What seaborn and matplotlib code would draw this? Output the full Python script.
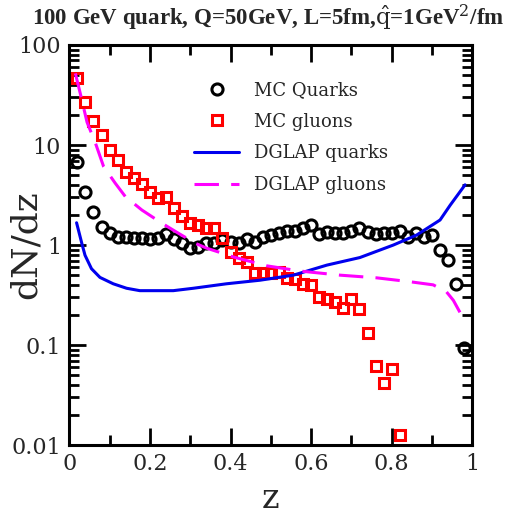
import numpy as np
import seaborn as sns
import matplotlib.pyplot as plt
from matplotlib.ticker import FixedLocator, FixedFormatter, LogLocator, NullFormatter, MultipleLocator

# MC quarks (black circles)
zq = [0.02, 0.04, 0.06, 0.08, 0.10, 0.12, 0.14, 0.16, 0.18, 0.20,
      0.22, 0.24, 0.26, 0.28, 0.30, 0.32, 0.34, 0.36, 0.38, 0.40,
      0.42, 0.44, 0.46, 0.48, 0.50, 0.52, 0.54, 0.56, 0.58, 0.60,
      0.62, 0.64, 0.66, 0.68, 0.70, 0.72, 0.74, 0.76, 0.78, 0.80,
      0.82, 0.84, 0.86, 0.88, 0.90, 0.92, 0.94, 0.96, 0.98]
mc_quarks = [6.76, 3.39, 2.14, 1.51, 1.31, 1.21, 1.21, 1.17, 1.17, 1.14,
             1.17, 1.28, 1.14, 1.04, 0.93, 0.96, 1.04, 1.06, 1.12, 1.08,
             1.04, 1.14, 1.08, 1.19, 1.26, 1.33, 1.39, 1.39, 1.47, 1.58,
             1.29, 1.36, 1.31, 1.31, 1.39, 1.47, 1.36, 1.28, 1.31, 1.33,
             1.39, 1.21, 1.31, 1.21, 1.26, 0.89, 0.71, 0.41, 0.093]

# MC gluons (red squares)
zg = [0.02, 0.04, 0.06, 0.08, 0.10, 0.12, 0.14, 0.16, 0.18, 0.20,
      0.22, 0.24, 0.26, 0.28, 0.30, 0.32, 0.34, 0.36, 0.38, 0.40,
      0.42, 0.44, 0.46, 0.48, 0.50, 0.52, 0.54, 0.56, 0.58, 0.60,
      0.62, 0.64, 0.66, 0.68, 0.70, 0.72, 0.74, 0.76, 0.78, 0.80, 0.82]
mc_gluons = [47, 27, 17.4, 12.6, 8.9, 7.1, 5.4, 4.65, 4.07, 3.41,
             2.93, 3.04, 2.36, 1.96, 1.65, 1.58, 1.49, 1.49, 1.17, 0.86,
             0.74, 0.67, 0.53, 0.53, 0.53, 0.54, 0.47, 0.46, 0.41, 0.40,
             0.30, 0.29, 0.27, 0.235, 0.29, 0.23, 0.133, 0.062, 0.042, 0.058, 0.0126]

# DGLAP quarks (blue line)
zdq = [0.018, 0.031, 0.039, 0.055, 0.076, 0.109, 0.142, 0.175, 0.258, 0.308,
       0.39, 0.473, 0.556, 0.639, 0.721, 0.804, 0.862, 0.92, 0.945, 0.978, 0.982]
dglap_quarks = [1.67, 1.04, 0.79, 0.58, 0.475, 0.41, 0.37, 0.35, 0.35, 0.37,
                0.41, 0.445, 0.50, 0.63, 0.75, 1.0, 1.26, 1.78, 2.5, 3.8, 4.0]

# DGLAP gluons (magenta dashed)
zdg = [0.015, 0.027, 0.044, 0.065, 0.085, 0.114, 0.139, 0.18, 0.23, 0.271,
       0.313, 0.341, 0.379, 0.407, 0.49, 0.572, 0.672, 0.763, 0.845, 0.903,
       0.936, 0.953, 0.97, 0.982]
dglap_gluons = [52, 33, 16.9, 10.4, 6.1, 4.15, 3.05, 2.24, 1.65, 1.31,
                1.04, 0.93, 0.83, 0.76, 0.62, 0.55, 0.50, 0.47, 0.43, 0.40,
                0.34, 0.28, 0.21, 0.18]

sns.set_style("ticks")
plt.rcParams['font.family'] = ['DejaVu Serif']
plt.rcParams['mathtext.fontset'] = 'dejavuserif'

fig = plt.figure(figsize=(5.15, 5.2), dpi=100)
ax = fig.add_axes([0.1346, 0.144, 0.7825, 0.7695])

sns.lineplot(x=zq, y=mc_quarks, ax=ax, marker='o', linestyle='', ms=8,
             mfc='none', mec='black', mew=2.2, label='MC Quarks')
sns.lineplot(x=zg, y=mc_gluons, ax=ax, marker='s', linestyle='', ms=7.5,
             mfc='none', mec='red', mew=2.2, label='MC gluons')
sns.lineplot(x=zdq, y=dglap_quarks, ax=ax, color='#0000ee', lw=2.2, sort=False,
             label='DGLAP quarks')
sns.lineplot(x=zdg, y=dglap_gluons, ax=ax, color='#ff00ff', lw=2.2, sort=False,
             dashes=False, linestyle=(0, (8, 4)), label='DGLAP gluons')

ax.set_yscale('log')
ax.set_xlim(0, 1)
ax.set_ylim(0.01, 100)

ax.set_xticks([0, 0.2, 0.4, 0.6, 0.8, 1])
ax.set_xticklabels(['0', '0.2', '0.4', '0.6', '0.8', '1'])
ax.xaxis.set_minor_locator(MultipleLocator(0.1))
ax.yaxis.set_major_locator(FixedLocator([0.01, 0.1, 1, 10, 100]))
ax.yaxis.set_major_formatter(FixedFormatter(['0.01', '0.1', '1', '10', '100']))
ax.yaxis.set_minor_locator(LogLocator(base=10, subs=np.arange(2, 10)))
ax.yaxis.set_minor_formatter(NullFormatter())

ax.tick_params(which='both', direction='in', top=True, right=True, width=2,
               labelsize=16, color='black')
ax.tick_params(which='major', length=12, pad=6)
ax.tick_params(which='minor', length=7)
for s in ax.spines.values():
    s.set_linewidth(2.2)
    s.set_color('black')

ax.set_xlabel('z', fontsize=24)
ax.xaxis.set_label_coords(0.5, -0.095)
ax.set_ylabel('dN/dz', fontsize=26)
ax.yaxis.set_label_coords(-0.065, 0.5)
fig.text(0.52, 0.966, r'100 GeV quark, Q=50GeV, L=5fm,$\hat{\rm q}$=1GeV$^2$/fm',
         ha='center', va='center', fontsize=16.5, fontweight='bold',
         family='Liberation Serif')

ax.legend(loc='upper right', bbox_to_anchor=(0.83, 0.95), frameon=False,
          fontsize=13, handlelength=2.5, handletextpad=0.8, labelspacing=0.75)

fig.savefig('out.png', dpi=100)
